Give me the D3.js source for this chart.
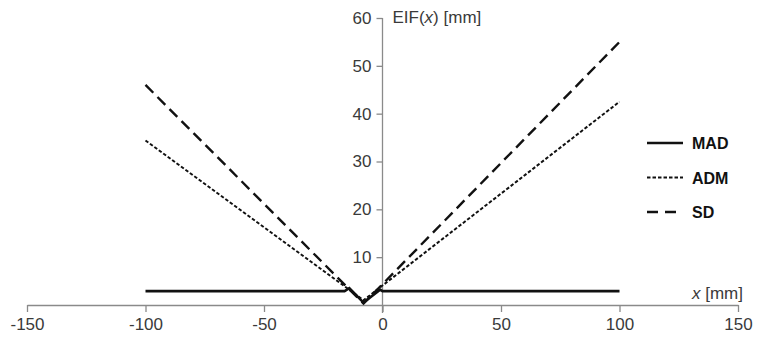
<!DOCTYPE html>
<html>
<head>
<meta charset="utf-8">
<script src="https://cdn.jsdelivr.net/npm/d3@7"></script>
<style>
  body { margin: 0; background: #fff; }
  svg { display: block; font-family: "Liberation Sans", Arial, sans-serif; }
</style>
</head>
<body>
<svg id="chart" width="757" height="342"></svg>
<script>
// x ticks and y ticks
const xTicks = [-150, -100, -50, 0, 50, 100, 150];
const yTicks = [10, 20, 30, 40, 50, 60];

// series
const madX = [-100, -16, -14, -8, -1, 0, 100];
const madY = [2.9, 2.9, 3.5, 0.5, 3.2, 2.9, 2.9];
const admX = [-100, -8, 100];
const admY = [34.4, 1.0, 42.5];
const sdX = [-100, -8, 100];
const sdY = [46, 0.3, 55];

const seriesNames = ["MAD", "ADM", "SD"];

const svg = d3.select("#chart");

const x = d3.scaleLinear().domain([-150, 150]).range([27, 738]);
const y = d3.scaleLinear().domain([0, 60]).range([305, 18]);

const axisColor = "#8a8a8a";
const textColor = "#3a3a3a";

// x axis
const gx = svg.append("g")
  .attr("transform", `translate(0, ${y(0)})`)
  .call(d3.axisBottom(x).tickValues(xTicks).tickFormat(d => String(d))
    .tickSize(7).tickSizeOuter(0).tickPadding(6));
gx.select(".domain").attr("stroke", axisColor).attr("stroke-width", 1.3);
gx.selectAll(".tick line").attr("stroke", axisColor).attr("stroke-width", 1.3);
gx.selectAll(".tick text")
  .attr("fill", textColor)
  .style("font-size", "17px");

// y axis
const gy = svg.append("g")
  .attr("transform", `translate(${x(0)}, 0)`)
  .call(d3.axisLeft(y).tickValues(yTicks).tickSize(6).tickSizeOuter(0).tickPadding(5));
gy.select(".domain").remove();
gy.append("line")
  .attr("x1", 0).attr("x2", 0)
  .attr("y1", y(60)).attr("y2", y(0) + 8)
  .attr("stroke", axisColor).attr("stroke-width", 1.3);
gy.selectAll(".tick line").attr("stroke", axisColor).attr("stroke-width", 1.3);
gy.selectAll(".tick text")
  .attr("fill", textColor)
  .style("font-size", "17px");

// axis titles
const yTitle = svg.append("text")
  .attr("x", x(0) + 10).attr("y", y(60) + 5)
  .attr("fill", textColor).style("font-size", "17px");
yTitle.append("tspan").text("EIF(");
yTitle.append("tspan").attr("font-style", "italic").text("x");
yTitle.append("tspan").text(") [mm]");

const xTitle = svg.append("text")
  .attr("x", 743).attr("y", y(0) - 6)
  .attr("text-anchor", "end")
  .attr("fill", textColor).style("font-size", "17px");
xTitle.append("tspan").attr("font-style", "italic").text("x");
xTitle.append("tspan").text(" [mm]");

// lines
const line = d3.line().x(d => x(d[0])).y(d => y(d[1]));
const styles = [
  { dash: null, width: 2.6 },
  { dash: "3.5,2", width: 2 },
  { dash: "11,6", width: 2.4 }
];
const data = [
  d3.zip(madX, madY),
  d3.zip(admX, admY),
  d3.zip(sdX, sdY)
];

data.forEach((d, i) => {
  svg.append("path")
    .datum(d)
    .attr("d", line)
    .attr("fill", "none")
    .attr("stroke", "#111")
    .attr("stroke-width", styles[i].width)
    .attr("stroke-dasharray", styles[i].dash)
    .attr("stroke-linejoin", "miter");
});

// legend
const legend = svg.append("g");
seriesNames.forEach((name, i) => {
  const ly = 143 + i * 34.5;
  legend.append("line")
    .attr("x1", 647).attr("x2", 683)
    .attr("y1", ly).attr("y2", ly)
    .attr("stroke", "#111")
    .attr("stroke-width", styles[i].width)
    .attr("stroke-dasharray", i === 2 ? "11,7" : styles[i].dash);
  legend.append("text")
    .attr("x", 692).attr("y", ly + 6)
    .attr("fill", "#111")
    .style("font-size", "16px")
    .style("font-weight", "bold")
    .text(name);
});
</script>
</body>
</html>
